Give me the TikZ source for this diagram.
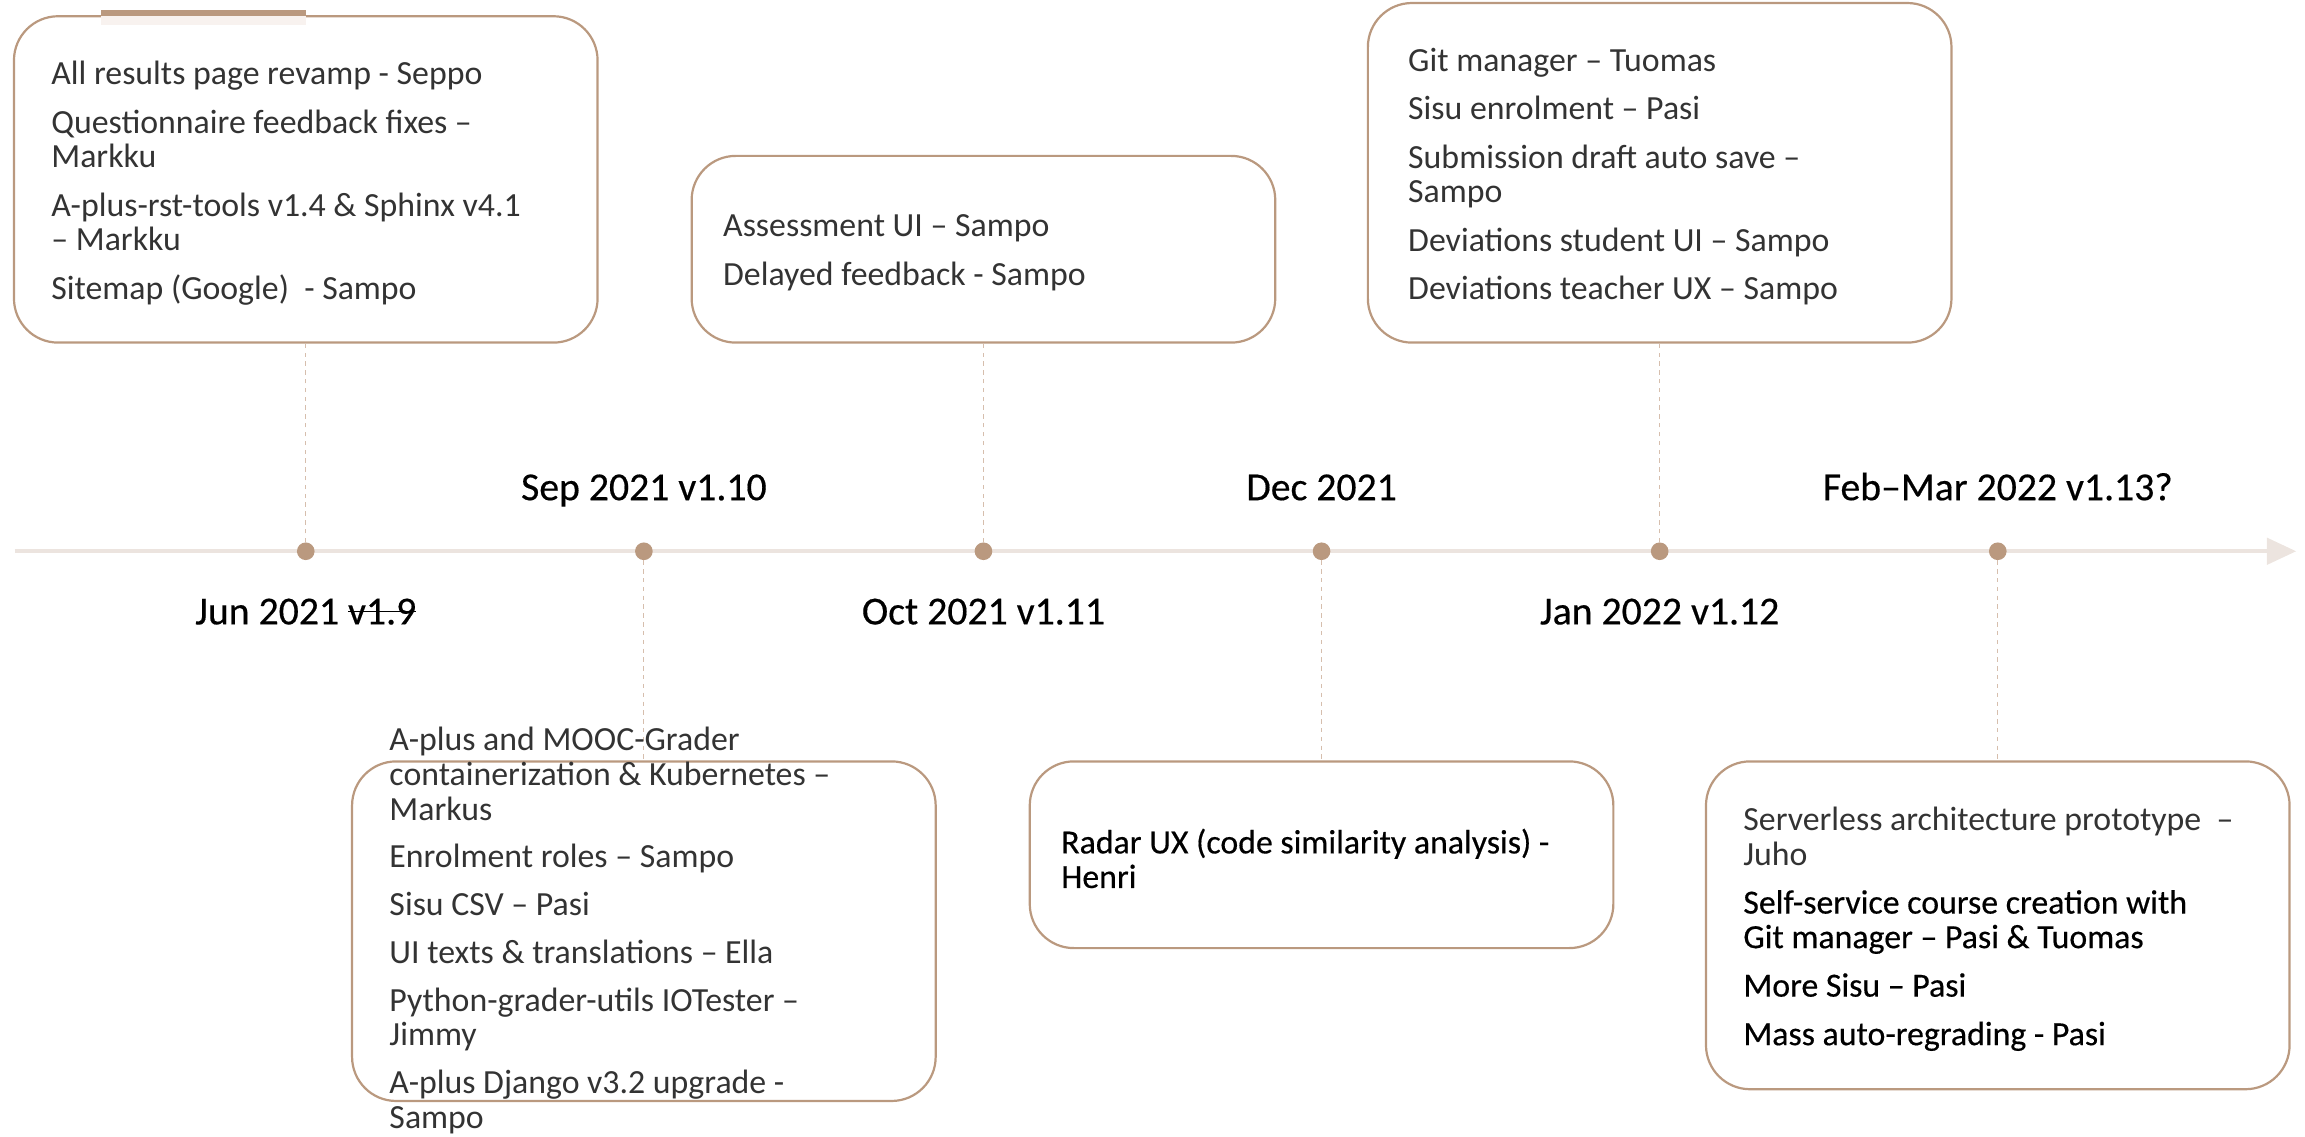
\documentclass[tikz,border=0pt]{standalone}
\usepackage{fontspec}
\setmainfont{Carlito}
\newfontfamily\medfont[FakeBold=0.4]{Carlito}
\usetikzlibrary{arrows.meta, positioning}

\definecolor{milestonebrown}{RGB}{186,153,127}
\definecolor{stemcolor}{RGB}{214,190,173}
\definecolor{axiscolor}{RGB}{236,228,223}
\definecolor{barlight}{RGB}{248,242,239}

\newcommand\strikeout[1]{\setbox0\hbox{#1}\rlap{\rule[0.3em]{\wd0}{1.3pt}}\box0}

\begin{document}
\begin{tikzpicture}[x=1pt, y=-1pt,
    milestone/.style={circle, fill=milestonebrown, minimum size=12pt, inner sep=0pt},
    eventbox/.style={draw=milestonebrown, line width=1.5pt, rounded corners=30pt, minimum width=397pt},
    eventtext/.style={anchor=west, align=left, inner sep=0pt, yshift=-2.5pt, text=black!80, font=\fontsize{23}{23.5}\selectfont},
    datelabel/.style={font=\medfont\fontsize{27}{30}\selectfont, text height=20pt, text depth=5pt},
    stem/.style={draw=stemcolor, dashed, line width=0.8pt}]

    \useasboundingbox (0,0) rectangle (1568,773);

    % Timeline
    \coordinate (start) at (10,375);
    \coordinate (end) at (1562,375);
    \draw[axiscolor, line width=2.5pt, -{Triangle[length=20pt, width=18pt]}] (start) -- (end);

    % Milestones
    \node[milestone] (jun) at (208,375) {};
    \node[milestone] (sep) at (438,375) {};
    \node[milestone] (oct) at (669,375) {};
    \node[milestone] (dec) at (899,375) {};
    \node[milestone] (jan) at (1129,375) {};
    \node[milestone] (feb) at (1359,375) {};

    % Dates
    \node[datelabel, below=20pt of jun] (junlabel) {Jun 2021 \strikeout{v1.9}};
    \node[datelabel, above=20pt of sep] (seplabel) {Sep 2021 v1.10};
    \node[datelabel, below=20pt of oct] (octlabel) {Oct 2021 v1.11};
    \node[datelabel, above=20pt of dec] (declabel) {Dec 2021};
    \node[datelabel, below=20pt of jan] (janlabel) {Jan 2022 v1.12};
    \node[datelabel, above=20pt of feb] (feblabel) {Feb–Mar 2022 v1.13?};

    % Boxes
    \node[eventbox, minimum height=222pt, above=135pt of jun] (junbox) {};
    \node[eventbox, minimum height=127pt, above=135pt of oct] (octbox) {};
    \node[eventbox, minimum height=231pt, above=135pt of jan] (janbox) {};
    \node[eventbox, minimum height=231pt, below=136pt of sep] (sepbox) {};
    \node[eventbox, minimum height=127pt, below=136pt of dec] (decbox) {};
    \node[eventbox, minimum height=223pt, below=136pt of feb] (febbox) {};

    \fill[barlight] ([xshift=-139pt]junbox.north) rectangle ([yshift=-7pt]junbox.north);
    \fill[milestonebrown] ([xshift=-139pt,yshift=-0.5pt]junbox.north) rectangle ([yshift=3.5pt]junbox.north);

    % Stems
    \draw[stem] (jun) -- (junbox);
    \draw[stem] (oct) -- (octbox);
    \draw[stem] (jan) -- (janbox);
    \draw[stem] (sep) -- (sepbox);
    \draw[stem] (dec) -- (decbox);
    \draw[stem] (feb) -- (febbox);

    % Texts
    \node[eventtext] (juntext) at ([xshift=26pt]junbox.west) {All results page revamp - Seppo\\[9.5pt]
        Questionnaire feedback fixes –\\Markku\\[9.5pt]
        A-plus-rst-tools v1.4 \& Sphinx v4.1\\– Markku\\[9.5pt]
        Sitemap (Google)\ \ - Sampo};
    \node[eventtext] (octtext) at ([xshift=22pt]octbox.west) {Assessment UI – Sampo\\[9.5pt]
        Delayed feedback - Sampo};
    \node[eventtext] (jantext) at ([xshift=28pt]janbox.west) {Git manager – Tuomas\\[9.5pt]
        Sisu enrolment – Pasi\\[9.5pt]
        Submission draft auto save –\\Sampo\\[9.5pt]
        Deviations student UI – Sampo\\[9.5pt]
        Deviations teacher UX – Sampo};
    \node[eventtext, yshift=3pt] (septext) at ([xshift=26pt]sepbox.west) {A-plus and MOOC-Grader\\containerization \& Kubernetes –\\Markus\\[9pt]
        Enrolment roles – Sampo\\[9pt]
        Sisu CSV – Pasi\\[9pt]
        UI texts \& translations – Ella\\[9pt]
        Python-grader-utils IOTester –\\Jimmy\\[9pt]
        A-plus Django v3.2 upgrade -\\Sampo};
    \node[eventtext, text=black] (dectext) at ([xshift=22pt]decbox.west) {\medfont Radar UX (code similarity analysis) -\\\medfont Henri};
    \node[eventtext] (febtext) at ([xshift=26pt]febbox.west) {Serverless architecture prototype\ \ –\\Juho\\[9.5pt]
        \color{black}\medfont Self-service course creation with\\\color{black}\medfont Git manager – Pasi \& Tuomas\\[9.5pt]
        \color{black}\medfont More Sisu – Pasi\\[9.5pt]
        \color{black}\medfont Mass auto-regrading - Pasi};
\end{tikzpicture}
\end{document}
